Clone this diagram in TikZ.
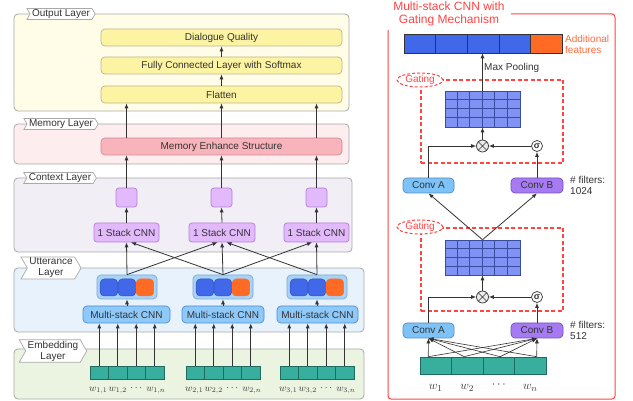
\documentclass[tikz,border=0pt]{standalone}
\usepackage{fontspec}
\setmainfont{Liberation Sans}
\usetikzlibrary{arrows.meta,shapes.symbols,shapes.geometric,fit,calc}
\definecolor{laygray}{HTML}{A9A9A9}
\definecolor{txt}{HTML}{333333}
\definecolor{outbg}{HTML}{FFFDE8}
\definecolor{yfill}{HTML}{FDF4A3}
\definecolor{ydraw}{HTML}{BDB58A}
\definecolor{membg}{HTML}{FDEDEF}
\definecolor{mfill}{HTML}{F8B3BB}
\definecolor{mdraw}{HTML}{CF8C94}
\definecolor{ctxbg}{HTML}{F1EEF6}
\definecolor{pfill}{HTML}{E2B9FB}
\definecolor{pdraw}{HTML}{B47FDC}
\definecolor{uttbg}{HTML}{E7F2FC}
\definecolor{msfill}{HTML}{8FC9F9}
\definecolor{msdraw}{HTML}{4D8FD0}
\definecolor{gfill}{HTML}{A8D2F6}
\definecolor{gdraw}{HTML}{7BA9D6}
\definecolor{sqblue}{HTML}{4068E8}
\definecolor{sqbluedark}{HTML}{2F4FC0}
\definecolor{sqorange}{HTML}{FF6B24}
\definecolor{embbg}{HTML}{EBF4E0}
\definecolor{tealc}{HTML}{38AE9E}
\definecolor{tealdark}{HTML}{1F6B60}
\definecolor{redc}{HTML}{FF4444}
\definecolor{orangec}{HTML}{FF6A3D}
\definecolor{gridfill}{HTML}{8093F5}
\definecolor{griddraw}{HTML}{3A4C9E}
\definecolor{convAc}{HTML}{7DC3F7}
\definecolor{convAd}{HTML}{5A8CC2}
\definecolor{convBc}{HTML}{A67AF2}
\definecolor{convBd}{HTML}{7650BE}
\newcommand\myfs{\fontsize{10}{11}\selectfont}
\tikzset{
 lay/.style={draw=laygray, line width=0.8pt, rounded corners=4pt, inner sep=0pt},
 tagbox/.style={signal, signal from=west, signal to=east, signal pointer angle=120, draw=laygray, fill=white, line width=0.7pt, text=txt, font=\myfs, inner xsep=2pt, inner ysep=1pt, align=center},
 bt/.style={text=txt, font=\myfs, inner sep=0pt},
 ybox/.style={draw=ydraw, fill=yfill, line width=0.7pt, rounded corners=4pt, inner sep=0pt},
 mbox/.style={draw=mdraw, fill=mfill, line width=0.7pt, rounded corners=4pt, inner sep=0pt},
 pbox/.style={draw=pdraw, fill=pfill, line width=0.7pt, rounded corners=3pt, inner sep=0pt},
 msbox/.style={draw=msdraw, fill=msfill, line width=0.7pt, rounded corners=4pt, inner sep=0pt},
 grpbox/.style={draw=gdraw, fill=gfill, line width=0.7pt, rounded corners=4pt, inner sep=0pt},
 bsq/.style={draw=sqbluedark, fill=sqblue, line width=0.5pt, rounded corners=4pt, inner sep=0pt},
 osq/.style={draw=sqorange, fill=sqorange, line width=0.5pt, rounded corners=4pt, inner sep=0pt},
 ecell/.style={draw=tealdark, fill=tealc, line width=0.6pt, inner sep=0pt},
 wlab/.style={font=\fontsize{10}{11}\selectfont, text=txt, inner sep=0pt},
 wlabr/.style={font=\fontsize{12.5}{13}\selectfont, text=txt, inner sep=0pt},
 arr/.style={draw=txt, line width=0.8pt, -{Latex[length=5pt,width=4pt]}},
 pl/.style={draw=txt, line width=0.8pt},
 barcell/.style={draw=txt, line width=0.6pt, inner sep=0pt},
 gridbox/.style={draw=griddraw, fill=gridfill, line width=0.6pt, inner sep=0pt},
 gl/.style={draw=griddraw, line width=0.6pt},
 gatebox/.style={draw=redc, dash pattern=on 4pt off 2.5pt, line width=1.1pt, inner sep=0pt},
 gatelab/.style={ellipse, draw=redc, dash pattern=on 3pt off 2pt, line width=1pt, fill=white, text=redc, minimum width=46, minimum height=14, inner sep=0pt, font=\fontsize{10}{10}\selectfont},
 convA/.style={draw=convAd, fill=convAc, line width=0.7pt, rounded corners=4pt, inner sep=0pt},
 convB/.style={draw=convBd, fill=convBc, line width=0.7pt, rounded corners=4pt, inner sep=0pt},
 otimesnode/.style={circle, draw=txt, fill=black!8, line width=0.7pt, minimum size=12, inner sep=0pt},
 signode/.style={circle, draw=txt, fill=white, line width=0.7pt, minimum size=11, inner sep=0pt, font=\fontsize{9}{9}\selectfont\bfseries, text=txt},
 note/.style={font=\myfs, text=txt, align=left, inner sep=1pt},
}
\begin{document}
\begin{tikzpicture}[x=1pt,y=-1pt]
\useasboundingbox (0,0) rectangle (633,401);
\fill[white] (0,0) rectangle (633,401);

% ---------- Output layer ----------
\node[lay, fill=outbg, fit={(14,14) (349,111)}] (outL) {};
\node[ybox, fit={(101,29) (342,46)}, label={[bt]center:Dialogue Quality}] (dq) {};
\node[ybox, fit={(101,57) (342,74)}, label={[bt]center:Fully Connected Layer with Softmax}] (fc) {};
\node[ybox, fit={(101,86) (342,103)}, label={[bt]center:Flatten}] (fl) {};
\node[tagbox] (outT) at (61,14) {Output Layer};
\draw[arr] (fl.north) -- (fc.south);
\draw[arr] (fc.north) -- (dq.south);

% ---------- Memory layer ----------
\node[lay, fill=membg, fit={(14,124) (349,164)}] (memL) {};
\node[mbox, fit={(101,138) (342,155)}, label={[bt]center:Memory Enhance Structure}] (mes) {};
\node[tagbox] (memT) at (61,124) {Memory Layer};

% ---------- Context layer ----------
\node[lay, fill=ctxbg, fit={(14,178) (352,252)}] (ctxL) {};
\node[tagbox] (ctxT) at (60,178) {Context Layer};
\node[pbox, fit={(116,188) (137,207)}] (sq1) {};
\node[pbox, fit={(211,188) (232,207)}] (sq2) {};
\node[pbox, fit={(306,188) (327,207)}] (sq3) {};
\node[pbox, fit={(94,223) (159,242)}, label={[bt]center:1 Stack CNN}] (sc1) {};
\node[pbox, fit={(189,223) (255,242)}, label={[bt]center:1 Stack CNN}] (sc2) {};
\node[pbox, fit={(284,223) (349,242)}, label={[bt]center:1 Stack CNN}] (sc3) {};
\foreach \i in {1,2,3}{
  \draw[arr] (sc\i.north) -- (sq\i.south);
  \draw[arr] (sq\i.north) -- (sq\i.north |- mes.south);
  \draw[arr] (mes.north -| sq\i.north) -- (fl.south -| sq\i.north);
}

% ---------- Utterance layer ----------
\node[lay, fill=uttbg, fit={(14,268) (364,332)}] (uttL) {};
\node[tagbox] (uttT) at (51,268) {Utterance\\Layer};
\foreach \i/\gl/\ml/\mr in {1/97/83/170, 2/193/182/264, 3/287/277/358}{
  \node[grpbox, fit={(\gl,275) ({\gl+60},299)}] (grp\i) {};
  \node[bsq, fit={({\gl+3.2},279) ({\gl+20.7},296)}] (bq\i a) {};
  \node[bsq, fit={({\gl+21.2},279) ({\gl+38.7},296)}] (bq\i b) {};
  \node[osq, fit={({\gl+39.2},279) ({\gl+56.7},296)}] (oq\i) {};
  \node[msbox, fit={(\ml,306) (\mr,323)}, label={[bt]center:Multi-stack CNN}] (ms\i) {};
  \draw[arr] (ms\i.north -| grp\i.south) -- (grp\i.south);
}
\draw[arr] (grp1.north) -- (sc1.south);
\draw[arr] (grp1.north) -- ($(sc2.south)+(-4.5,0)$);
\draw[arr] (grp2.north) -- ($(sc1.south)+(4.5,0)$);
\draw[arr] (grp2.north) -- (sc2.south);
\draw[arr] (grp2.north) -- ($(sc3.south)+(-4.5,0)$);
\draw[arr] (grp3.north) -- ($(sc2.south)+(4.5,0)$);
\draw[arr] (grp3.north) -- (sc3.south);

% ---------- Embedding layer ----------
\node[lay, fill=embbg, fit={(14,349) (364,399)}] (embL) {};
\node[tagbox] (embT) at (53,351) {Embedding\\Layer};
\foreach \i/\el in {1/90, 2/186, 3/280}{
  \foreach \j in {0,1,2,3}{
    \node[ecell, fit={({\el+18.5*\j},366) ({\el+18.5*(\j+1)},379)}] (e\i\j) {};
    \draw[arr] (e\i\j.north) -- (e\i\j.north |- ms\i.south);
  }
  \node[wlab] (wl\i a) at ($(e\i0.south)+(-1,11)$) {$w_{\i,1}$};
  \node[wlab] (wl\i b) at ($(e\i1.south)+(0,11)$) {$w_{\i,2}$};
  \node[wlab] (wl\i c) at ($(e\i2.south)+(0,9)$) {$\cdots$};
  \node[wlab] (wl\i d) at ($(e\i3.south)+(1,11)$) {$w_{\i,n}$};
}

% ---------- Right panel ----------
\node[draw=redc, line width=1pt, rounded corners=3pt, inner sep=0pt, fit={(388,14) (615,399)}] (frame) {};
\node[fill=white, text=redc, font=\fontsize{12}{13}\selectfont, align=center, inner xsep=6pt, inner ysep=4pt] (title) at (449,14) {Multi-stack CNN with\\Gating Mechanism};

% top bar
\foreach \k in {0,1,2,3}{
  \node[barcell, fill=sqblue, fit={({404+31.6*\k},34) ({404+31.6*(\k+1)},53)}] (bar\k) {};
}
\node[barcell, fill=sqorange, fit={({404+31.6*4},34) (562,53)}] (bar4) {};
\node[note, text=orangec, anchor=west] (addf) at (564,44) {Additional\\features};

% upper gating block
\node[gatebox, fit={(421,80) (563,163)}] (gr1) {};
\node[gatelab] (gt1) at (420,80) {Gating};
\node[gridbox, fit={(445,91) (520,127)}] (gA) {};
\foreach \k in {1,...,5} \draw[gl] ($(gA.north west)+(\k*12.5,0)$) -- ($(gA.south west)+(\k*12.5,0)$);
\foreach \k in {1,2,3} \draw[gl] ($(gA.north west)+(0,\k*9)$) -- ($(gA.north east)+(0,\k*9)$);
\node[otimesnode] (ox1) at (482.5,146) {};
\draw[pl, line width=0.7pt] (ox1.north west) -- (ox1.south east) (ox1.north east) -- (ox1.south west);
\node[signode] (sg1) at (537,146) {σ};
\node[convA, fit={(403,178) (454,193)}, label={[bt]center:Conv A}] (cA1) {};
\node[convB, fit={(511,178) (563,193)}, label={[bt]center:Conv B}] (cB1) {};
\node[note, anchor=west] (nf1) at (569,185) {\# filters:\\1024};
\draw[arr] (cA1.north) |- (ox1.west);
\draw[arr] (sg1.west) -- (ox1.east);
\draw[arr] (cB1.north) -- (sg1.south);
\draw[arr] (ox1.north) -- (gA.south);
\draw[arr] (gA.north) -- (gA.north |- bar2.south);
\node[note, anchor=west] (mp) at (483,68) {Max Pooling};

% lower gating block
\node[gatebox, fit={(421,228) (563,311)}] (gr2) {};
\node[gatelab] (gt2) at (420,227) {Gating};
\node[gridbox, fit={(445,240) (520,275)}] (gB) {};
\foreach \k in {1,...,5} \draw[gl] ($(gB.north west)+(\k*12.5,0)$) -- ($(gB.south west)+(\k*12.5,0)$);
\foreach \k in {1,2,3} \draw[gl] ($(gB.north west)+(0,\k*8.75)$) -- ($(gB.north east)+(0,\k*8.75)$);
\node[otimesnode] (ox2) at (482.5,297) {};
\draw[pl, line width=0.7pt] (ox2.north west) -- (ox2.south east) (ox2.north east) -- (ox2.south west);
\node[signode] (sg2) at (537,297) {σ};
\node[convA, fit={(403,323) (454,338)}, label={[bt]center:Conv A}] (cA2) {};
\node[convB, fit={(511,323) (563,338)}, label={[bt]center:Conv B}] (cB2) {};
\node[note, anchor=west] (nf2) at (569,330) {\# filters:\\512};
\draw[arr] (cA2.north) |- (ox2.west);
\draw[arr] (sg2.west) -- (ox2.east);
\draw[arr] (cB2.north) -- (sg2.south);
\draw[arr] (ox2.north) -- (gB.south);
\draw[arr] (gB.north) -- (cA1.south);
\draw[arr] (gB.north) -- (cB1.south);

% input strip
\foreach \k in {0,1,2,3}{
  \node[ecell, fill=tealc, fit={({420+31.5*\k},357) ({420+31.5*(\k+1)},374)}] (s\k) {};
}
\foreach \dx in {8.5,44.5,80.5,117}{
  \draw[arr, line width=0.6pt] ($(s0.north west)+(\dx,0)$) -- (cA2.south);
  \draw[arr, line width=0.6pt] ($(s0.north west)+(\dx,0)$) -- (cB2.south);
}
\node[wlabr] (wr1) at ($(s0.south)+(0,14)$) {$w_1$};
\node[wlabr] (wr2) at ($(s1.south)+(0,14)$) {$w_2$};
\node[wlabr] (wr3) at ($(s2.south)+(0,11)$) {$\cdots$};
\node[wlabr] (wr4) at ($(s3.south)+(0,14)$) {$w_n$};
\end{tikzpicture}
\end{document}
